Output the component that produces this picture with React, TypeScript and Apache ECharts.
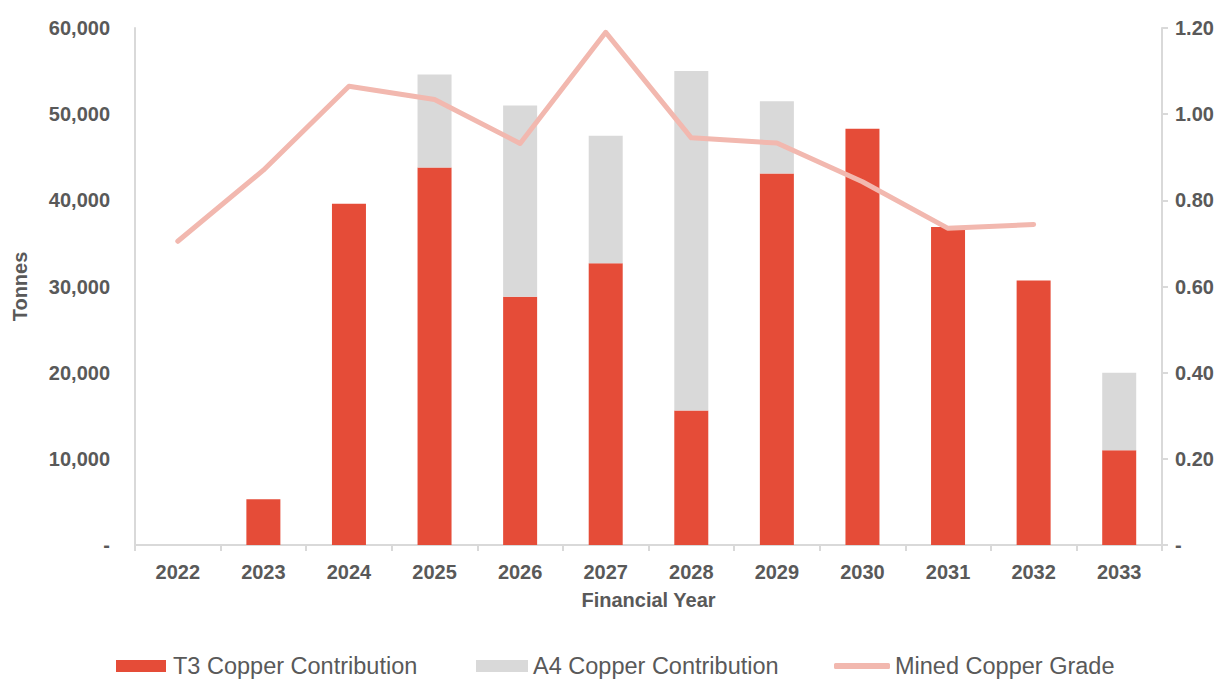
import React, { useEffect, useRef } from "react";
import * as echarts from "echarts";

const years = ["2022", "2023", "2024", "2025", "2026", "2027", "2028", "2029", "2030", "2031", "2032", "2033"];
const t3Copper = [0, 5300, 39600, 43800, 28800, 32700, 15600, 43100, 48300, 36900, 30700, 11000];
const a4Copper = [0, 0, 0, 10800, 22200, 14800, 39400, 8400, 0, 0, 0, 9000];
const minedGrade: (number | null)[] = [0.705, 0.87, 1.065, 1.034, 0.932, 1.19, 0.945, 0.933, 0.843, 0.735, 0.744, null];

const TXT = "#595959";
const RED = "#E54C38";
const GREY = "#D9D9D9";
const PINK = "#F2B8AF";
const AXIS = "#D9D9D9";
const FONT = "Liberation Sans, Arial, sans-serif";

export default function App() {
  const ref = useRef<HTMLDivElement>(null);
  useEffect(() => {
    if (!ref.current) return;
    const chart = echarts.init(ref.current, undefined, { renderer: "svg" });
    const legendText = { color: TXT, fontSize: 23.5, fontFamily: FONT, padding: [0, 0, 0, 2] };
    chart.setOption({
      animation: false,
      textStyle: { fontFamily: FONT },
      grid: { left: 135, right: 67, top: 28, bottom: 135, containLabel: false },
      legend: [
        {
          data: [{ name: "T3 Copper Contribution", icon: "rect" }],
          left: 111, top: 649, itemWidth: 50, itemHeight: 12, textStyle: legendText,
        },
        {
          data: [{ name: "A4 Copper Contribution", icon: "rect" }],
          left: 471, top: 649, itemWidth: 52, itemHeight: 12, textStyle: { ...legendText, padding: 0 },
        },
        {
          data: [{ name: "Mined Copper Grade", icon: "roundRect" }],
          left: 829, top: 649, itemWidth: 56, itemHeight: 6, textStyle: { ...legendText, padding: 0 },
        },
      ],
      xAxis: {
        type: "category",
        data: years,
        name: "Financial Year",
        nameLocation: "middle",
        nameGap: 45,
        nameTextStyle: { color: TXT, fontSize: 20, fontWeight: "bold", fontFamily: FONT },
        axisLine: { show: true, lineStyle: { color: AXIS, width: 2 } },
        axisTick: { show: true, length: 6, lineStyle: { color: AXIS, width: 2 } },
        axisLabel: { color: TXT, fontSize: 20, fontWeight: "bold", margin: 17, fontFamily: FONT },
      },
      yAxis: [
        {
          type: "value",
          min: 0,
          max: 60000,
          interval: 10000,
          name: "Tonnes",
          nameLocation: "middle",
          nameGap: 105,
          nameRotate: 90,
          nameTextStyle: { color: TXT, fontSize: 20, fontWeight: "bold", fontFamily: FONT },
          axisLine: { show: true, lineStyle: { color: AXIS, width: 2 } },
          axisTick: { show: false },
          splitLine: { show: false },
          axisLabel: {
            color: TXT, fontSize: 20, fontWeight: "bold", margin: 25, fontFamily: FONT,
            formatter: (v: number) => (v === 0 ? "-" : v.toLocaleString("en-US")),
          },
        },
        {
          type: "value",
          min: 0,
          max: 1.2,
          interval: 0.2,
          position: "right",
          axisLine: { show: true, lineStyle: { color: AXIS, width: 2 } },
          axisTick: { show: true, length: 6, lineStyle: { color: AXIS, width: 2 } },
          splitLine: { show: false },
          axisLabel: {
            color: TXT, fontSize: 20, fontWeight: "bold", margin: 13, fontFamily: FONT,
            formatter: (v: number) => (v === 0 ? "-" : v.toFixed(2)),
          },
        },
      ],
      series: [
        {
          name: "T3 Copper Contribution",
          type: "bar",
          stack: "copper",
          barWidth: 34,
          data: t3Copper,
          itemStyle: { color: RED },
        },
        {
          name: "A4 Copper Contribution",
          type: "bar",
          stack: "copper",
          barWidth: 34,
          data: a4Copper,
          itemStyle: { color: GREY },
        },
        {
          name: "Mined Copper Grade",
          type: "line",
          yAxisIndex: 1,
          data: minedGrade,
          symbol: "none",
          lineStyle: { color: PINK, width: 5, cap: "round", join: "round" },
          itemStyle: { color: PINK },
        },
      ],
    });
    return () => chart.dispose();
  }, []);
  return <div ref={ref} style={{ width: 1229, height: 680, position: "absolute", left: 0, top: 0 }} />;
}
